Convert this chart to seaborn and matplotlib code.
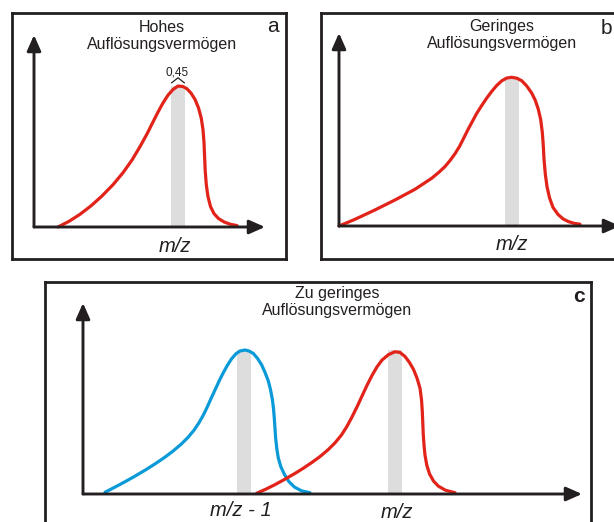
import matplotlib
matplotlib.use("Agg")
import matplotlib.pyplot as plt
import seaborn as sns
import pandas as pd

# ---------------- data ----------------
# panel a: high resolving power (position along m/z, relative intensity in %)
a_pos = [24, 35, 46, 57, 68, 79, 89, 98, 106, 113, 119, 124, 129, 134, 139, 144,
         149, 153, 157, 161, 164.5, 167.3, 169, 170, 170.6, 171.2, 172.3, 174,
         176.5, 180, 184.5, 190, 196, 203]
a_int = [0, 4, 9, 15, 22, 30, 38.5, 47.5, 57, 66, 74.5, 81.5, 88, 93.5, 97.5, 100,
         99.6, 98, 95, 90.5, 84.5, 77, 69, 60, 50, 40, 30, 21.5,
         14.5, 9.5, 6, 3.6, 2, 1]
a_peak = 144
a_peak_label = "0,45"

# panel b: low resolving power
b_pos = [0, 16, 36, 56, 76, 92.7, 100, 106, 111, 116, 120.5, 124.5, 128.5, 132.7,
         137.5, 142.7, 147.7, 152.7, 157.7, 162.7, 167.7, 172.7, 177.7, 182.7,
         187.7, 192.7, 196.3, 199.3, 201.7, 203.3, 204.3, 205, 206.3, 208, 210.5,
         214, 219, 224, 229.3, 235, 241]
b_int = [0, 4.5, 10.8, 17.5, 24.7, 32.1, 36.2, 40, 44, 48.6, 53.5, 58.8, 64.2, 69.5,
         75.5, 81, 86, 90.5, 94.5, 97.6, 99.5, 100, 99.4, 97.7,
         94.2, 89.4, 84.5, 78.5, 71.5, 63, 54, 45, 35, 26.5, 19,
         12.5, 7.8, 4.8, 3, 1.8, 1.2]
b_peak = 173

# panel c: too low resolving power, two neighbouring peaks
c1_pos = [22, 32, 42, 52, 62, 72, 82, 90, 98, 105, 111, 116, 120.5, 124.5, 128.5,
          132.5, 136.5, 140.5, 144.5, 148.7, 153, 157, 162, 166, 170.3, 174.5,
          178.7, 182, 185.3, 187.5, 189.3, 190.5, 191.3, 192, 192.7, 193.8, 195.3,
          197.8, 201.5, 206, 211.5, 218.5, 227]
c1_int = [1.2, 4.8, 8.5, 12.4, 16.5, 20.9, 25.6, 29.8, 34.5, 39.3, 44.3, 49.5, 55,
          60.8, 67, 73, 79, 84.5, 89.5, 94, 97.4, 99.3, 100, 99.3, 97.6, 94.2,
          89.6, 84.5, 78.5, 72.5, 66, 59.3, 52.5, 45.5, 38.5, 31.5, 25,
          19, 13.5, 8.5, 4.8, 2.2, 0.9]
c1_peak = 161
c2_pos = [173.7, 183, 192, 202, 212, 220.3, 228.7, 237, 245, 252, 258.5, 264, 269,
          274, 279, 284, 289, 294, 299, 305.5, 312, 317, 322, 326.3, 330.3, 334,
          337, 338.5, 339.3, 339.8, 340.3, 341, 342, 343.8, 346.5, 350.5, 355.3,
          362.5, 372]
c2_int = [0.5, 3.4, 6.5, 10.3, 14.3, 17.9, 21.8, 26, 30.7, 35.5, 41, 47, 53.5,
          60.5, 68, 75.5, 82.3, 88.3, 93, 96.8, 98.8, 98.3, 95.5, 91.5, 86.8,
          80.5, 73.5, 65.5, 57.3, 49, 41, 34, 27, 20, 14, 9, 5.5, 2.6, 0.9]
c2_peak = 312

titles = ["Hohes\nAuflösungsvermögen", "Geringes\nAuflösungsvermögen",
          "Zu geringes\nAuflösungsvermögen"]
letters = ["a", "b", "c"]
xlabels_c = ["m/z - 1", "m/z"]
xlabel = "m/z"

# ---------------- style ----------------
sns.set_theme(style="white")
plt.rcParams["font.family"] = ["Liberation Sans", "DejaVu Sans"]

RED = "#e2231a"
BLUE = "#0a9ad8"
GREY = "#dddddd"
DARK = "#231f20"

W, H = 614, 522
fig = plt.figure(figsize=(W / 100, H / 100), dpi=100)
fig.patch.set_facecolor("white")


def px(x, y):
    return x / W, 1 - y / H


def make_panel(box, origin, peak_px, xtip, ytip):
    x0, y0, x1, y1 = box
    ox, oy = origin
    ax = fig.add_axes([x0 / W, 1 - y1 / H, (x1 - x0) / W, (y1 - y0) / H])
    ax.set_xlim(x0 - ox, x1 - ox)
    ax.set_ylim((oy - y1) / peak_px * 100, (oy - y0) / peak_px * 100)
    ax.set_xticks([])
    ax.set_yticks([])
    ax.set_facecolor("white")
    for s in ax.spines.values():
        s.set_visible(True)
        s.set_linewidth(2.0)
        s.set_color(DARK)
    arrow = dict(arrowstyle="-|>,head_length=0.95,head_width=0.42",
                 mutation_scale=10, lw=2.1, color=DARK, shrinkA=0, shrinkB=0)
    ax.annotate("", xy=(xtip - ox, 0), xytext=(0, 0), arrowprops=arrow, zorder=5)
    ax.annotate("", xy=(0, (oy - ytip) / peak_px * 100), xytext=(0, 0),
                arrowprops=arrow, zorder=5)
    return ax


def draw_peak(ax, pos, inten, peak, color):
    ax.bar([peak], [100], width=14, color=GREY, zorder=1, linewidth=0)
    df = pd.DataFrame({"pos": pos, "int": inten})
    sns.lineplot(data=df, x="pos", y="int", ax=ax, color=color, linewidth=2.3,
                 sort=False, estimator=None, zorder=3,
                 solid_joinstyle="round", solid_capstyle="round")
    ax.set_xlabel("")
    ax.set_ylabel("")


# panel a
ax_a = make_panel((12, 13.5, 286, 259), (34, 227), 141, 265, 35)
draw_peak(ax_a, a_pos, a_int, a_peak, RED)
ax_a.plot([a_peak - 6.5, a_peak, a_peak + 6.5], [102.2, 105.8, 102.2],
          color=DARK, lw=0.9, zorder=4)
ax_a.text(a_peak - 1, 109.5, a_peak_label, ha="center", va="center",
          fontsize=8.5, color=DARK)

# panel b
ax_b = make_panel((321, 13.5, 645, 259), (339, 226), 148.7, 620, 33)
draw_peak(ax_b, b_pos, b_int, b_peak, RED)

# panel c
ax_c = make_panel((45, 282, 591, 545), (83, 494), 144, 582, 303)
draw_peak(ax_c, c1_pos, c1_int, c1_peak, BLUE)
draw_peak(ax_c, c2_pos, c2_int, c2_peak, RED)

# texts
title_pos = [(162, 36), (502, 35), (337, 302)]
for t, (x, y) in zip(titles, title_pos):
    fig.text(*px(x, y), t, ha="center", va="center", fontsize=11.5,
             linespacing=1.1, color=DARK)

letter_pos = [(273, 27), (606, 29), (579, 297)]
for l, (x, y), w in zip(letters, letter_pos, ["normal", "normal", "bold"]):
    fig.text(*px(x, y), l, ha="center", va="center", fontsize=15,
             color=DARK, fontweight=w)

fig.text(*px(175, 246), xlabel, ha="center", va="center", fontsize=14.5,
         style="italic", color=DARK)
fig.text(*px(512, 245), xlabel, ha="center", va="center", fontsize=14.5,
         style="italic", color=DARK)
for lab, (x, y) in zip(xlabels_c, [(241, 511), (397, 512)]):
    fig.text(*px(x, y), lab, ha="center", va="center", fontsize=14.5,
             style="italic", color=DARK)

fig.savefig("out.png", dpi=100, facecolor="white")
